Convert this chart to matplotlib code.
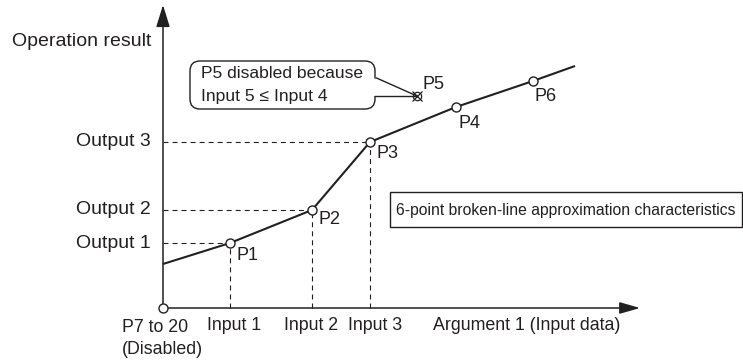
import matplotlib
matplotlib.use("Agg")
import matplotlib.pyplot as plt
from matplotlib.patches import FancyBboxPatch, Polygon, Rectangle

plt.rcParams['font.family'] = ['Liberation Sans', 'DejaVu Sans']
plt.rcParams['lines.scale_dashes'] = False

# ---- data (chart units, origin at the axes crossing) ----
point_names = ['P1', 'P2', 'P3', 'P4', 'P5', 'P6']
input_vals = [67, 149, 207, 293, 254, 370]
output_vals = [65, 98, 166, 201, 212, 227]
enabled = [True, True, True, True, False, True]
line_start = (0, 44)      # extrapolated left end of the broken line
line_end = (412, 242)     # extrapolated right end of the broken line
input_labels = ['Input 1', 'Input 2', 'Input 3']
output_labels = ['Output 1', 'Output 2', 'Output 3']
x_axis_label = 'Argument 1 (Input data)'
y_axis_label = 'Operation result'
disabled_label = ['P7 to 20', '(Disabled)']
callout_text = ['P5 disabled because', 'Input 5 \u2264 Input 4']
box_text = '6-point broken-line approximation characteristics'

INK = '#231f20'

fig = plt.figure(figsize=(7.43, 3.62), dpi=100)
ax = fig.add_axes([0, 0, 1, 1])
ax.set_xlim(-163, 580)
ax.set_ylim(-54, 308)
ax.axis('off')

# axes with arrows
ax.annotate('', xy=(477, 0), xytext=(0, 0),
            arrowprops=dict(arrowstyle='-|>,head_length=1.25,head_width=0.36',
                            lw=1.1, color=INK, shrinkA=0, shrinkB=0), zorder=3)
ax.annotate('', xy=(0, 303), xytext=(0, 0),
            arrowprops=dict(arrowstyle='-|>,head_length=1.35,head_width=0.42',
                            lw=1.1, color=INK, shrinkA=0, shrinkB=0), zorder=3)

# dashed guide lines for the first three points
dash = (0, (3.6, 2.9))
for i in range(3):
    xi, yi = input_vals[i], output_vals[i]
    ax.plot([0, xi], [yi, yi], color=INK, lw=0.8, linestyle=dash, zorder=2)
    ax.plot([xi, xi], [0, yi], color=INK, lw=0.8, linestyle=dash, zorder=2)

# broken line through enabled points, sorted by input
en = sorted([(x, y) for x, y, e in zip(input_vals, output_vals, enabled) if e])
lx = [line_start[0]] + [p[0] for p in en] + [line_end[0]]
ly = [line_start[1]] + [p[1] for p in en] + [line_end[1]]
ax.plot(lx, ly, color=INK, lw=1.5, zorder=4, solid_capstyle='butt')

# markers
ex = [x for x, e in zip(input_vals, enabled) if e]
ey = [y for y, e in zip(output_vals, enabled) if e]
ax.plot(ex, ey, 'o', ms=6.5, mfc='white', mec=INK, mew=1.0, zorder=5)
dx = [x for x, e in zip(input_vals, enabled) if not e]
dy = [y for y, e in zip(output_vals, enabled) if not e]
ax.plot(dx, dy, 'o', ms=6.0, mfc='white', mec=INK, mew=0.9, zorder=6)
ax.plot(dx, dy, 'x', ms=6.5, mec=INK, mew=0.9, zorder=7)
ax.plot([0], [0], 'o', ms=6.5, mfc='white', mec=INK, mew=1.0, zorder=5)

# point labels (offsets in pixels: dx, dy-down)
label_offsets = {'P1': (6, -13), 'P2': (6, -9), 'P3': (6, -11),
                 'P4': (2, -17), 'P5': (6, 11.5), 'P6': (2, -15.5)}
for name, x, y in zip(point_names, input_vals, output_vals):
    ox, oy = label_offsets[name]
    ax.annotate(name, (x, y), xytext=(ox * 0.72, oy * 0.72),
                textcoords='offset points', ha='left', va='center',
                fontsize=13, color=INK, zorder=8)

# axis labels
ax.text(-12, 267, y_axis_label, ha='right', va='center', fontsize=14, color=INK)
for lab, y in zip(output_labels, output_vals[:3]):
    ax.text(-12, y, lab, ha='right', va='center', fontsize=14, color=INK)
in_off = [4, -1, 5]
for lab, x, o in zip(input_labels, input_vals[:3], in_off):
    ax.text(x + o, -18, lab, ha='center', va='center', fontsize=12.8, color=INK)
ax.text(270, -18, x_axis_label, ha='left', va='center', fontsize=12.8, color=INK)
ax.text(-41, -19, disabled_label[0], ha='left', va='center', fontsize=12.8, color=INK)
ax.text(-41, -41, disabled_label[1], ha='left', va='center', fontsize=12.8, color=INK)

# callout for P5
bx0, by0, bx1, by1 = 27, 199, 212, 247
ax.add_patch(FancyBboxPatch((bx0, by0), bx1 - bx0, by1 - by0,
                            boxstyle='round,pad=0,rounding_size=10',
                            fc='white', ec=INK, lw=1.0, zorder=6))
p5x, p5y = input_vals[4], output_vals[4]
ax.add_patch(Polygon([(bx1 - 1.5, 230), (p5x - 4, p5y), (bx1 - 1.5, p5y)],
                     closed=True, fc='white', ec='none', zorder=7))
ax.plot([bx1 + 1.5, p5x], [230, p5y], color=INK, lw=1.0, zorder=7)
ax.plot([bx1, p5x], [p5y, p5y], color=INK, lw=1.0, zorder=7)
ax.text(38, 234, callout_text[0], ha='left', va='center', fontsize=12.6, color=INK, zorder=8)
ax.text(38, 211, callout_text[1], ha='left', va='center', fontsize=12.6, color=INK, zorder=8)

# characteristics box
ax.add_patch(Rectangle((227, 81), 352, 35, fc='white', ec=INK, lw=1.0, zorder=6))
ax.text(233, 97, box_text, ha='left', va='center', fontsize=11.3, color=INK, zorder=8)

fig.savefig('out.png', dpi=100)
